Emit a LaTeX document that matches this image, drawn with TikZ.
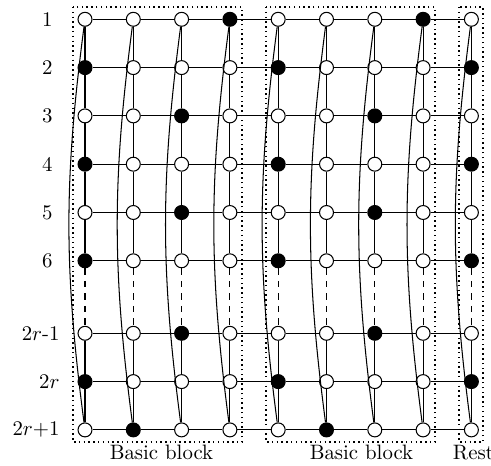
\documentclass[tikz,border=0pt]{standalone}
\begin{document}
\begin{tikzpicture}[x=0.48pt,y=-0.48pt,
  wht/.style={circle,draw,fill=white,inner sep=0pt,minimum size=6.7pt,line width=0.5pt},
  blk/.style={wht,fill=black},
  edge/.style={line width=0.5pt},
  gap/.style={line width=0.5pt,dashed},
  boxline/.style={line width=0.7pt,dash pattern=on 0.7pt off 1.6pt},
  lbl/.style={inner sep=0pt,anchor=east},
  captext/.style={inner sep=0pt,anchor=base}]
\useasboundingbox (0,0) rectangle (491,466);
% dotted blocks
\draw[boxline] (73,7) rectangle (242,442);
\draw[boxline] (266,7) rectangle (435,442);
\draw[boxline] (459,7) rectangle (483,442);
% vertices
\foreach \r/\y/\pat in {1/19.3/{0,0,0,1,0,0,0,1,0},2/67.6/{1,0,0,0,1,0,0,0,1},3/115.9/{0,0,1,0,0,0,1,0,0},4/164.2/{1,0,0,0,1,0,0,0,1},5/212.5/{0,0,1,0,0,0,1,0,0},6/260.8/{1,0,0,0,1,0,0,0,1},7/333.3/{0,0,1,0,0,0,1,0,0},8/381.6/{1,0,0,0,1,0,0,0,1},9/429.9/{0,1,0,0,0,1,0,0,0}}{
  \foreach \v [count=\c from 0] in \pat {
    \ifnum\v=1
      \node[blk] (n-\c-\r) at ({85+48.3*\c},\y) {};
    \else
      \node[wht] (n-\c-\r) at ({85+48.3*\c},\y) {};
    \fi
  }
}
% horizontal edges
\foreach \r in {1,...,9}{
  \foreach \c [evaluate=\c as \d using {int(\c+1)}] in {0,...,7}{
    \draw[edge] (n-\c-\r) -- (n-\d-\r);
  }
}
% vertical edges and long curves
\foreach \c in {0,...,8}{
  \foreach \r/\s in {1/2,2/3,3/4,4/5,5/6,7/8,8/9}{
    \draw[edge] (n-\c-\r) -- (n-\c-\s);
  }
  \draw[gap] (n-\c-6) -- (n-\c-7);
  \draw[edge] (n-\c-1) to[bend right=7.5] (n-\c-9);
}
% row labels
\node[lbl] (l1) at (53,19.3) {1};
\node[lbl] (l2) at (53,67.6) {2};
\node[lbl] (l3) at (53,115.9) {3};
\node[lbl] (l4) at (53,164.2) {4};
\node[lbl] (l5) at (53,212.5) {5};
\node[lbl] (l6) at (53,260.8) {6};
\node[lbl] (l7) at (60,333.3) {2$r$-1};
\node[lbl] (l8) at (60,381.6) {2$r$};
\node[lbl] (l9) at (60,429.9) {$2r{+}1$};
% block captions
\node[captext] (c1) at (161.5,460) {Basic block};
\node[captext] (c2) at (361.5,460) {Basic block};
\node[captext] (c3) at (473.4,460) {Rest};
\end{tikzpicture}
\end{document}
